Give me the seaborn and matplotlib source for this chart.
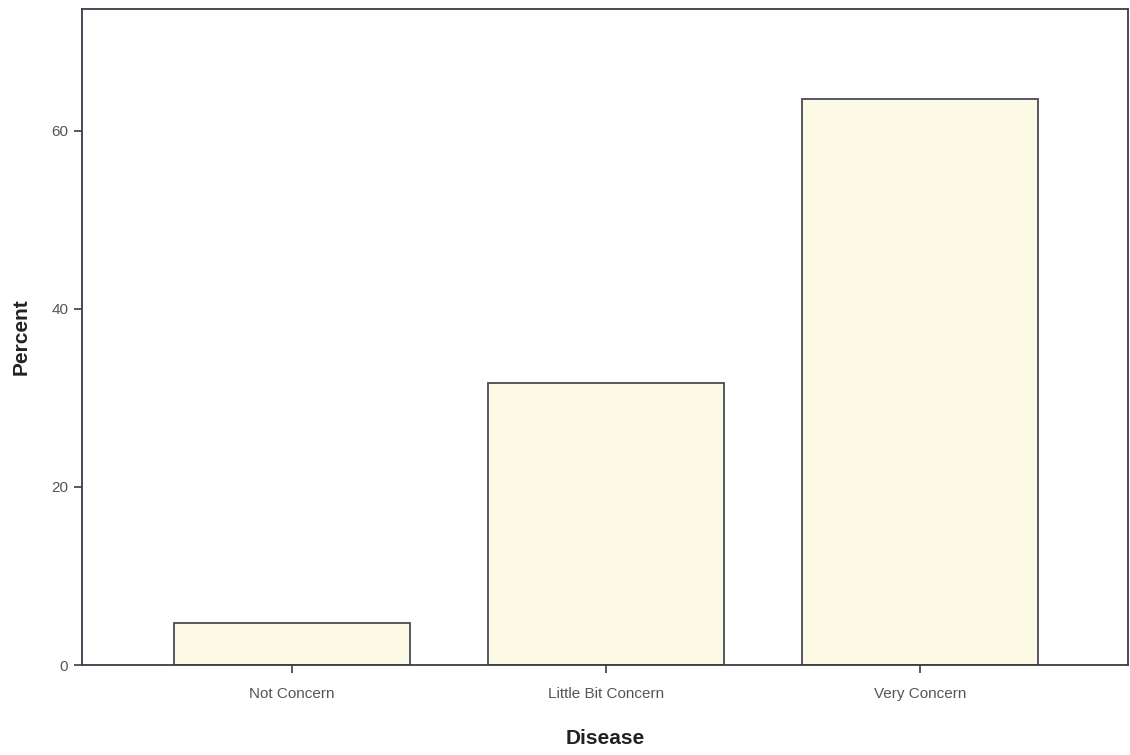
import matplotlib
matplotlib.use("Agg")
import matplotlib.pyplot as plt
import seaborn as sns
import pandas as pd

categories = ["Not Concern", "Little Bit Concern", "Very Concern"]
percent = [4.7, 31.7, 63.6]
yticks = [0, 20, 40, 60]

sns.set_theme(style="white")
plt.rcParams['font.family'] = ['Liberation Sans', 'DejaVu Sans']

df = pd.DataFrame({"Disease": categories, "Percent": percent})

fig = plt.figure(figsize=(11.3, 7.55), dpi=100)
ax = fig.add_axes([0.0726, 0.1192, 0.9256, 0.8689])

sns.barplot(data=df, x="Disease", y="Percent", order=categories, ax=ax,
            color="#FCFAE4", saturation=1, width=0.75,
            edgecolor="#4a4a55", linewidth=1.3)

ax.set_xlim(-0.669, 2.662)
ax.set_ylim(0, 73.7)
ax.set_yticks(yticks)
ax.set_yticklabels([str(v) for v in yticks])

for s in ax.spines.values():
    s.set_visible(True)
    s.set_color("#3c3c4a")
    s.set_linewidth(1.3)

ax.tick_params(axis="both", which="major", direction="out", length=6, width=1.2,
               color="#3c3c4a", labelsize=11, labelcolor="#555555", pad=4, left=True, bottom=True)
ax.tick_params(axis="x", pad=10)

ax.set_xlabel("Disease", fontsize=15, fontweight="bold", color="#222222", labelpad=20)
ax.set_ylabel("Percent", fontsize=15, fontweight="bold", color="#222222", labelpad=15)

fig.savefig("out.png", dpi=100, facecolor="white")
